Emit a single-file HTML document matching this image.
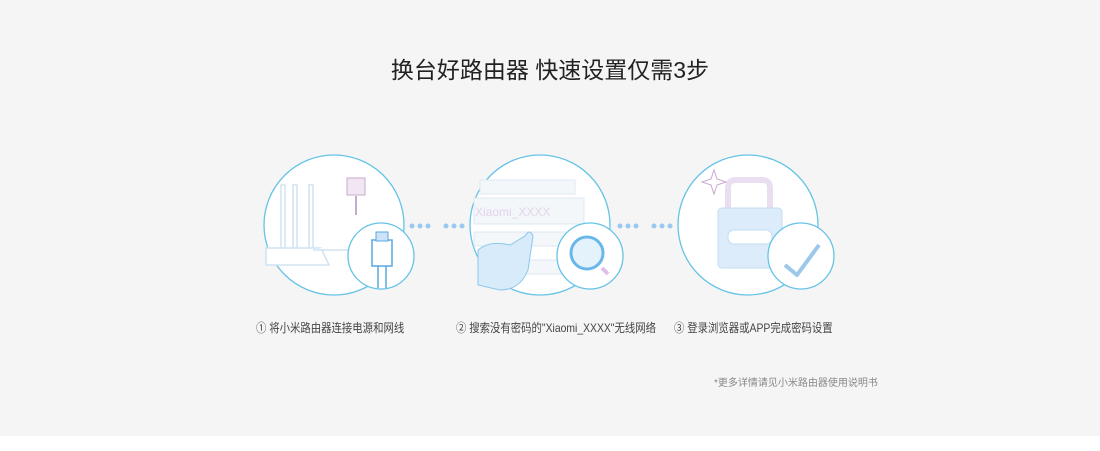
<!DOCTYPE html>
<html><head><meta charset="utf-8"><style>
body{margin:0;width:1100px;height:451px;background:#fff;font-family:"Liberation Sans","Noto Sans CJK SC",sans-serif;overflow:hidden}
#bg{position:absolute;left:0;top:0;width:1100px;height:436px;background:#f5f5f5}
.t{position:absolute;white-space:nowrap}
.l{font-size:12px;color:#444;transform:scaleX(0.865);transform-origin:0 0}
</style></head><body>
<div id="bg"></div>
<div class="t" style="left:0;width:1100px;text-align:center;top:51px;font-size:23px;color:#222">换台好路由器 快速设置仅需3步</div>
<svg style="position:absolute;left:0;top:0" width="1100" height="451">
<g fill="#fff" stroke="#66c3e6" stroke-width="1.3">
<circle cx="334" cy="225" r="70"/><circle cx="540" cy="225" r="70"/><circle cx="748" cy="225" r="70"/>
</g>
<g stroke="#cfe3f2" fill="#fff" stroke-width="1.5">
<rect x="281" y="185" width="4" height="65"/><rect x="293" y="185" width="4" height="65"/><rect x="309" y="185" width="4" height="65"/>
<path d="M266 248 H321 L329 265 H266Z"/><path d="M313 250H355V240"/>
</g>
<rect x="347" y="178" width="18" height="17" fill="#f2e6f2" stroke="#c8a8d0"/>
<path d="M356 196V215" stroke="#c8a8d0" stroke-width="2"/>
<g fill="#f4f7fa" stroke="#dde9f3"><rect x="480" y="180" width="95" height="14"/><rect x="474" y="198" width="110" height="26"/><rect x="474" y="232" width="110" height="14"/><rect x="478" y="260" width="90" height="14"/></g>
<text x="475" y="216" font-size="12" fill="#e3d3e8" font-family="Liberation Sans">Xiaomi_XXXX</text>
<path d="M478 250 Q490 240 510 245 L525 236 Q530 228 533 236 L528 270 Q520 290 500 290 L478 285Z" fill="#d7ebfa" stroke="#8cc6ec"/>
<path d="M728 210V188Q728 180 736 180H762Q770 180 770 188V210" fill="none" stroke="#eadff0" stroke-width="6"/>
<rect x="718" y="208" width="64" height="60" rx="4" fill="#dcecfa" stroke="#c3dcf1"/>
<rect x="728" y="230" width="44" height="14" rx="6" fill="#fff" stroke="#c3dcf1"/>
<path d="M714 170l3 9 9 3-9 3-3 9-3-9-9-3 9-3z" fill="#fff" stroke="#c8a8d0"/>
<g fill="#fff" stroke="#66c3e6" stroke-width="1.3">
<circle cx="381" cy="256" r="33"/><circle cx="590" cy="256" r="33"/><circle cx="801" cy="256" r="33"/>
</g>
<rect x="372" y="240" width="20" height="26" fill="#fff" stroke="#5aa8e0" stroke-width="1.5"/>
<rect x="376" y="232" width="12" height="9" fill="#cde4f8" stroke="#5aa8e0"/>
<path d="M378 266v22M386 266v22" stroke="#5aa8e0" stroke-width="1.5"/>
<circle cx="587" cy="253" r="16" fill="#e4f2fc" stroke="#6ab8ea" stroke-width="3"/>
<path d="M602 268l6 6" stroke="#e0c0e6" stroke-width="4"/>
<path d="M785 265l12 10 22-30" fill="none" stroke="#9cc8ec" stroke-width="4" stroke-linejoin="round"/>
<g fill="#9bc8f0">
<circle cx="412" cy="226" r="2.5"/><circle cx="420" cy="226" r="2.5"/><circle cx="428" cy="226" r="2.5"/>
<circle cx="446" cy="226" r="2.5"/><circle cx="454" cy="226" r="2.5"/><circle cx="462" cy="226" r="2.5"/>
<circle cx="620" cy="226" r="2.5"/><circle cx="628" cy="226" r="2.5"/><circle cx="636" cy="226" r="2.5"/>
<circle cx="654" cy="226" r="2.5"/><circle cx="662" cy="226" r="2.5"/><circle cx="670" cy="226" r="2.5"/>
</g>
</svg>
<div class="t l" style="left:256px;top:319px">① 将小米路由器连接电源和网线</div>
<div class="t l" style="left:456px;top:319px">② 搜索没有密码的"Xiaomi_XXXX"无线网络</div>
<div class="t l" style="left:674px;top:319px">③ 登录浏览器或APP完成密码设置</div>
<div class="t" style="left:714px;top:374px;font-size:10px;color:#888">*更多详情请见小米路由器使用说明书</div>
</body></html>
